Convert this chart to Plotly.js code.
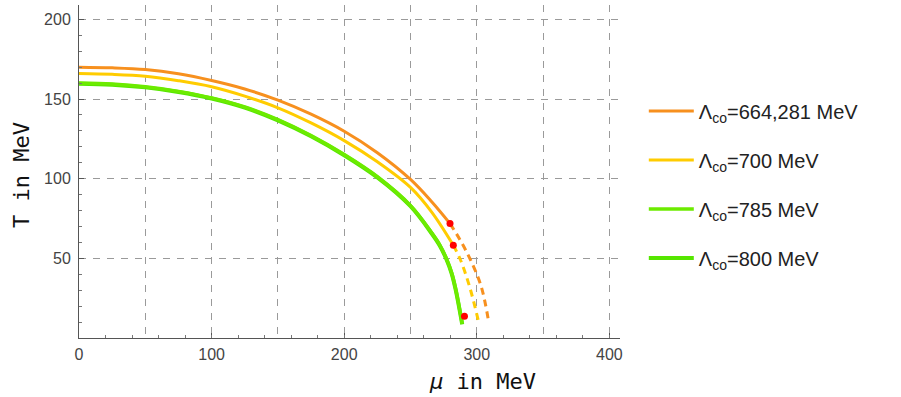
<!DOCTYPE html>
<html>
<head>
<meta charset="utf-8">
<script src="https://cdn.plot.ly/plotly-3.0.1.min.js"></script>
<style>html,body{margin:0;padding:0;background:#fff;}#chart{width:901px;height:397px;}</style>
</head>
<body>
<div id="chart"></div>
<script>
// Series names
const seriesNames = ['Λ<sub>co</sub>=664,281 MeV', 'Λ<sub>co</sub>=700 MeV', 'Λ<sub>co</sub>=785 MeV', 'Λ<sub>co</sub>=800 MeV'];

// Λco = 664,281 MeV (solid part up to critical point, dashed beyond)
const muOrange = [0, 25, 50, 75, 100, 125, 150, 175, 200, 225, 250, 266, 279.8];
const tOrange  = [170, 169.6, 168.5, 165.8, 161.6, 156.3, 149.3, 140.5, 129.8, 116.3, 99.5, 85.5, 71.8];
const muOrangeDash = [279.8, 287.3, 294.9, 303.3, 308.9];
const tOrangeDash  = [71.8, 61.7, 49.6, 32.4, 10.4];

// Λco = 700 MeV
const muYellow = [0, 25, 50, 75, 100, 125, 150, 175, 200, 225, 250, 266, 282.3];
const tYellow  = [166, 165.5, 164.3, 161.5, 157.7, 151.8, 144.5, 135, 123.9, 110.6, 94.5, 79, 58.2];
const muYellowDash = [282.3, 287.4, 294.5, 301.3];
const tYellowDash  = [58.2, 49.6, 32.4, 10.4];

// Λco = 785 MeV and 800 MeV (nearly overlapping)
const muGreen785 = [0, 25, 50, 75, 100, 125, 150, 175, 200, 225, 250, 266, 272, 277, 281, 284, 286.6, 289];
const tGreen785  = [160, 159.4, 157.7, 154.8, 150.7, 145, 137, 127, 115.1, 101.2, 83.1, 66, 58.5, 50, 41, 31, 20, 9];
const muGreen800 = [0, 25, 50, 75, 100, 125, 150, 175, 200, 225, 250, 266, 272, 277, 281, 284, 286.6, 289];
const tGreen800  = [159.6, 159, 157.3, 154.4, 150.3, 144.6, 136.6, 126.6, 114.7, 100.8, 82.7, 65.6, 58.1, 49.6, 40.6, 30.6, 19.6, 8.6];

// Critical points
const muCrit = [279.8, 282.3, 290.7];
const tCrit  = [71.8, 58.2, 13.6];

// Axis ticks
const xTickVals = [0, 100, 200, 300, 400];
const yTickVals = [50, 100, 150, 200];

const cOrange = '#F7901E', cYellow = '#FFCC00', cG785 = '#6CEB00', cG800 = '#55E600';
const gridCol = '#9a9a9a';
const sm = 1;

const traces = [
  {x: [], y: [], xaxis: 'x2', yaxis: 'y', mode: 'lines', showlegend: false, hoverinfo: 'skip'},
  {x: muGreen800, y: tGreen800, mode: 'lines', name: seriesNames[3], legendgroup: 'd', legendrank: 4,
   line: {color: cG800, width: 4, shape: 'spline', smoothing: sm}},
  {x: muGreen785, y: tGreen785, mode: 'lines', name: seriesNames[2], legendgroup: 'c', legendrank: 3,
   line: {color: cG785, width: 3.5, shape: 'spline', smoothing: sm}},
  {x: muYellowDash, y: tYellowDash, mode: 'lines', showlegend: false,
   line: {color: cYellow, width: 3, dash: '7px,5px', shape: 'spline', smoothing: sm}},
  {x: muYellow, y: tYellow, mode: 'lines', name: seriesNames[1], legendgroup: 'b', legendrank: 2,
   line: {color: cYellow, width: 3, shape: 'spline', smoothing: sm}},
  {x: muOrangeDash, y: tOrangeDash, mode: 'lines', showlegend: false,
   line: {color: cOrange, width: 3, dash: '7px,5px', shape: 'spline', smoothing: sm}},
  {x: muOrange, y: tOrange, mode: 'lines', name: seriesNames[0], legendgroup: 'a', legendrank: 1,
   line: {color: cOrange, width: 3, shape: 'spline', smoothing: sm}},
  {x: muCrit, y: tCrit, mode: 'markers', showlegend: false,
   marker: {color: '#FF0000', size: 7}}
];

const layout = {
  width: 901, height: 397,
  margin: {l: 79, r: 281, t: 5, b: 59},
  paper_bgcolor: '#fff', plot_bgcolor: '#fff',
  showlegend: true,
  font: {family: 'Liberation Sans, Arial, sans-serif', color: '#444'},
  xaxis: {
    range: [0, 408], tickvals: xTickVals,
    ticks: 'inside', ticklen: 5, tickcolor: '#555', tickwidth: 1,
    minor: {dtick: 50, tick0: 0, ticks: '', showgrid: true, gridcolor: gridCol, griddash: '7px,7px', gridwidth: 1},
    showgrid: true, gridcolor: gridCol, griddash: '7px,7px', gridwidth: 1,
    showline: true, linecolor: '#555', linewidth: 1, zeroline: false,
    tickfont: {size: 16, color: '#444'}, ticklabelstandoff: 2
  },
  xaxis2: {
    overlaying: 'x', anchor: 'y', side: 'bottom', range: [0, 408],
    dtick: 20, tick0: 0, ticks: 'inside', ticklen: 3, tickcolor: '#777',
    showticklabels: false, showgrid: false, zeroline: false, showline: false
  },
  yaxis: {
    range: [0, 209], tickvals: yTickVals,
    ticks: 'inside', ticklen: 5, tickcolor: '#555', tickwidth: 1,
    minor: {dtick: 10, tick0: 0, ticks: 'inside', ticklen: 3, tickcolor: '#777', showgrid: false},
    showgrid: true, gridcolor: gridCol, griddash: '7px,7px', gridwidth: 1,
    showline: true, linecolor: '#555', linewidth: 1, zeroline: false,
    tickfont: {size: 16, color: '#444'}, ticklabelstandoff: 4
  },
  legend: {
    x: 1.044, xanchor: 'left', y: 0.74, yanchor: 'top',
    font: {size: 20, color: '#222', family: 'Liberation Sans, Arial, sans-serif'},
    itemwidth: 45,
    traceorder: 'grouped', tracegroupgap: 20, bgcolor: 'rgba(0,0,0,0)'
  },
  annotations: [
    {xref: 'paper', yref: 'paper', x: 0.745, y: -0.132, xanchor: 'center', yanchor: 'middle', showarrow: false,
     text: '<i>μ</i> in MeV', font: {family: 'DejaVu Sans Mono, monospace', size: 22, color: '#111'}},
    {xref: 'paper', yref: 'paper', x: -0.105, y: 0.49, xanchor: 'center', yanchor: 'middle', showarrow: false,
     text: 'T in MeV', textangle: -90, font: {family: 'DejaVu Sans Mono, monospace', size: 22, color: '#111'}}
  ]
};

Plotly.newPlot('chart', traces, layout, {displayModeBar: false, staticPlot: true});
</script>
</body>
</html>
